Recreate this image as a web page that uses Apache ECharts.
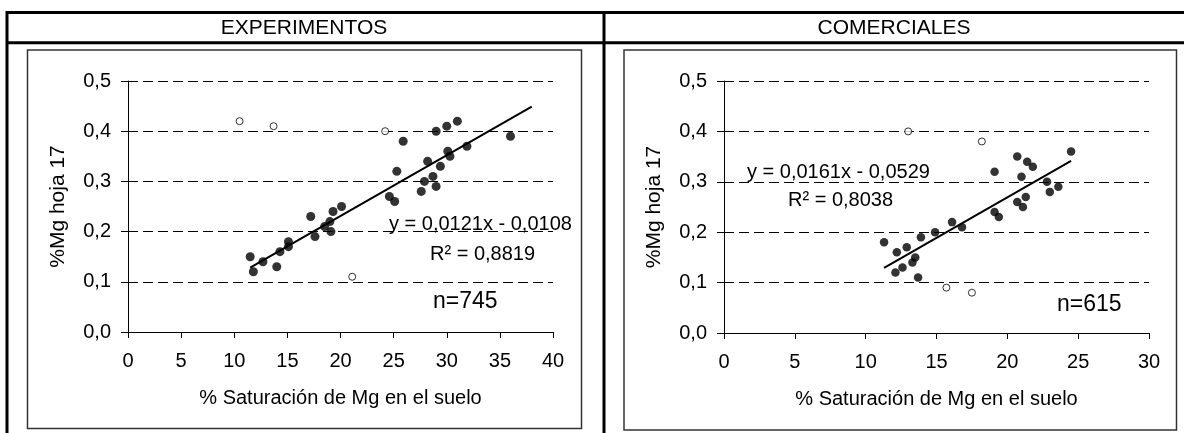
<!DOCTYPE html>
<html>
<head>
<meta charset="utf-8">
<script src="https://cdn.jsdelivr.net/npm/echarts@6/dist/echarts.min.js"></script>
<style>
  html, body { margin: 0; padding: 0; background: #fff; }
  #chart { width: 1184px; height: 433px; }
</style>
</head>
<body>
<div id="chart"></div>
<script>
// Panel titles and axis titles
const panelTitles = ['EXPERIMENTOS', 'COMERCIALES'];
const yTitle = '%Mg hoja 17';
const xTitle = '% Saturación de Mg en el suelo';

// EXPERIMENTOS: [% saturación Mg suelo, % Mg hoja 17]
const expPoints = [
  [11.5, 0.15], [11.8, 0.12], [12.7, 0.14], [14.0, 0.13], [14.3, 0.16],
  [15.1, 0.18], [15.1, 0.17], [17.2, 0.23], [17.6, 0.19], [18.5, 0.21],
  [19.0, 0.22], [19.1, 0.20], [19.3, 0.24], [20.1, 0.25], [24.6, 0.27],
  [25.1, 0.26], [25.3, 0.32], [25.9, 0.38], [27.6, 0.28], [27.9, 0.30],
  [28.2, 0.34], [28.7, 0.31], [29.0, 0.29], [29.0, 0.40], [29.4, 0.33],
  [30.0, 0.41], [30.1, 0.36], [30.3, 0.35], [31.0, 0.42], [31.9, 0.37],
  [36.0, 0.39]
];
// EXPERIMENTOS: excluded points (open circles)
const expOutliers = [[10.5, 0.42], [13.7, 0.41], [21.1, 0.11], [24.2, 0.40]];
// Fit: y = 0,0121x - 0,0108 ; R² = 0,8819 ; drawn over this x span
const expFit = [0.0121, -0.0108];
const expFitSpan = [11.5, 38];
const expR2 = '0,8819';
const expN = 745;

// COMERCIALES
const comPoints = [
  [11.3, 0.18], [12.2, 0.16], [12.9, 0.17], [13.5, 0.15], [13.3, 0.14],
  [12.6, 0.13], [12.1, 0.12], [13.7, 0.11], [13.9, 0.19], [14.9, 0.20],
  [16.1, 0.22], [16.8, 0.21], [19.1, 0.32], [19.1, 0.24], [19.4, 0.23],
  [20.7, 0.35], [21.0, 0.31], [20.7, 0.26], [21.1, 0.25], [21.3, 0.27],
  [21.4, 0.34], [21.8, 0.33], [22.8, 0.30], [23.0, 0.28], [23.6, 0.29],
  [24.5, 0.36]
];
const comOutliers = [[13.0, 0.40], [18.2, 0.38], [15.7, 0.09], [17.5, 0.08]];
// Fit: y = 0,0161x - 0,0529 ; R² = 0,8038
const comFit = [0.0161, -0.0529];
const comFitSpan = [11.3, 24.5];
const comR2 = '0,8038';
const comN = 615;

const FONT = '"Liberation Sans", Arial, sans-serif';

function fitLine(coef, span) {
  return span.map(x => [x, coef[0] * x + coef[1]]);
}
function fmtCoef(v) {
  return v.toFixed(4).replace('.', ',');
}
function equation(coef) {
  const sign = coef[1] < 0 ? ' - ' : ' + ';
  return 'y = ' + fmtCoef(coef[0]) + 'x' + sign + fmtCoef(Math.abs(coef[1]));
}

function xAxisFor(grid, max) {
  return {
    type: 'value', gridIndex: grid, min: 0, max: max, interval: 5,
    axisLine: { show: true, onZero: false, lineStyle: { color: '#000', width: 1 } },
    axisTick: { show: true, inside: false, length: 6, lineStyle: { color: '#000' } },
    axisLabel: { fontFamily: FONT, fontSize: 20, color: '#000', margin: 19 },
    splitLine: { show: false },
    name: xTitle, nameLocation: 'middle', nameGap: 56,
    nameTextStyle: { fontFamily: FONT, fontSize: 20, color: '#000' }
  };
}
function yAxisFor(grid) {
  return {
    type: 'value', gridIndex: grid, min: 0, max: 0.5, interval: 0.1,
    axisLine: { show: true, onZero: false, lineStyle: { color: '#000', width: 1 } },
    axisTick: { show: true, inside: false, length: 7, lineStyle: { color: '#000' } },
    axisLabel: {
      fontFamily: FONT, fontSize: 20, color: '#000', margin: 17,
      formatter: v => v.toFixed(1).replace('.', ',')
    },
    splitLine: { show: true, lineStyle: { color: '#000', width: 1, type: [10, 5] } },
    name: yTitle, nameLocation: 'middle', nameGap: 59,
    nameTextStyle: { fontFamily: FONT, fontSize: 21, color: '#000' }
  };
}
// second y axis on the same grid: only the inward half of the cross ticks
function yInnerTicks(grid) {
  return {
    type: 'value', gridIndex: grid, min: 0, max: 0.5, interval: 0.1, position: 'left',
    axisLine: { show: false },
    axisTick: { show: true, inside: true, length: 7, lineStyle: { color: '#000' } },
    axisLabel: { show: false }, splitLine: { show: false }
  };
}

function text(x, y, str, size, align) {
  return {
    type: 'text', x: x, y: y, z: 10,
    style: {
      text: str, font: size + 'px ' + FONT, fill: '#000',
      textAlign: align || 'left', textVerticalAlign: 'middle',
      align: align || 'left', verticalAlign: 'middle'
    }
  };
}
function line(x1, y1, x2, y2, w, c) {
  return { type: 'line', shape: { x1, y1, x2, y2 }, style: { stroke: c || '#000', lineWidth: w } };
}
function box(x, y, w, h) {
  return { type: 'rect', shape: { x, y, width: w, height: h },
           style: { fill: 'none', stroke: '#333', lineWidth: 1.5 } };
}

const chart = echarts.init(document.getElementById('chart'), null, { renderer: 'canvas' });

chart.setOption({
  animation: false,
  backgroundColor: '#fff',
  grid: [
    { left: 128, top: 81, width: 425, height: 251 },
    { left: 724, top: 81, width: 425, height: 252 }
  ],
  xAxis: [xAxisFor(0, 40), xAxisFor(1, 30)],
  yAxis: [yAxisFor(0), yInnerTicks(0), yAxisFor(1), yInnerTicks(1)],
  series: [
    { type: 'line', xAxisIndex: 0, yAxisIndex: 0, data: fitLine(expFit, expFitSpan),
      showSymbol: false, lineStyle: { color: '#000', width: 2 }, z: 3 },
    { type: 'scatter', xAxisIndex: 0, yAxisIndex: 0, data: expPoints,
      symbol: 'circle', symbolSize: 9, itemStyle: { color: '#000' }, z: 4 },
    { type: 'scatter', xAxisIndex: 0, yAxisIndex: 0, data: expOutliers,
      symbol: 'circle', symbolSize: 7,
      itemStyle: { color: '#fff', borderColor: '#000', borderWidth: 1 }, z: 4 },
    { type: 'line', xAxisIndex: 1, yAxisIndex: 2, data: fitLine(comFit, comFitSpan),
      showSymbol: false, lineStyle: { color: '#000', width: 2 }, z: 3 },
    { type: 'scatter', xAxisIndex: 1, yAxisIndex: 2, data: comPoints,
      symbol: 'circle', symbolSize: 8.5, itemStyle: { color: '#000' }, z: 4 },
    { type: 'scatter', xAxisIndex: 1, yAxisIndex: 2, data: comOutliers,
      symbol: 'circle', symbolSize: 7,
      itemStyle: { color: '#fff', borderColor: '#000', borderWidth: 1 }, z: 4 }
  ],
  graphic: [
    // table frame
    line(7, 12.5, 1184, 12.5, 3),
    line(7, 42.8, 1184, 42.8, 3),
    line(7, 11, 7, 433, 3),
    line(604, 11, 604, 433, 3),
    text(304, 28, panelTitles[0], 21, 'center'),
    text(894, 28, panelTitles[1], 21, 'center'),
    // chart boxes
    box(27.5, 50, 554, 378.5),
    box(624, 50, 552.5, 380),
    // fit annotations
    text(389, 224, equation(expFit), 20),
    text(430, 254, 'R² = ' + expR2, 20),
    text(433, 302, 'n=' + expN, 23),
    text(747, 172, equation(comFit), 20),
    text(788, 200, 'R² = ' + comR2, 20),
    text(1057, 305, 'n=' + comN, 23)
  ]
});
</script>
</body>
</html>
